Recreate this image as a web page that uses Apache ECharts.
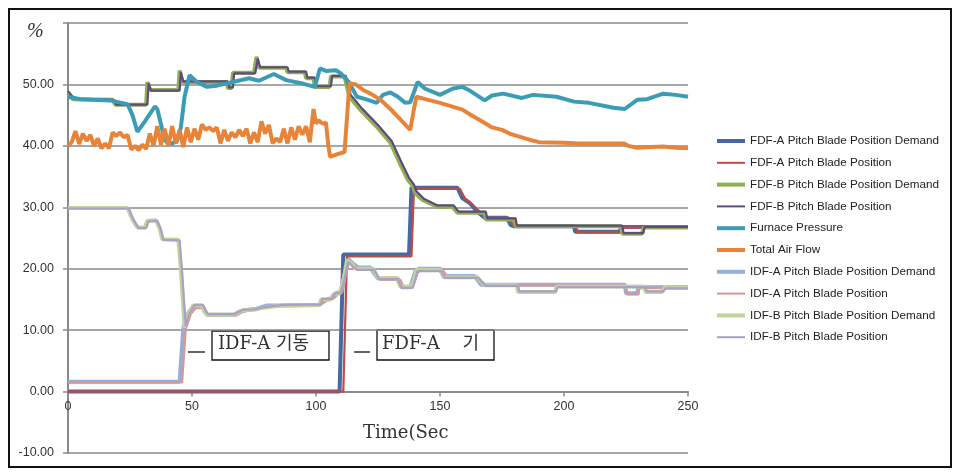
<!DOCTYPE html>
<html>
<head>
<meta charset="utf-8">
<script src="https://cdn.jsdelivr.net/npm/echarts@6/dist/echarts.min.js"></script>
<style>html,body{margin:0;padding:0;background:#fff;}#c{width:960px;height:475px;}</style>
</head>
<body>
<div id="c"></div>
<script>
// ---- data ----
const seriesNames = [
  'FDF-A Pitch Blade Position Demand',
  'FDF-A Pitch Blade Position',
  'FDF-B Pitch Blade Position Demand',
  'FDF-B Pitch Blade Position',
  'Furnace Pressure',
  'Total Air Flow',
  'IDF-A Pitch Blade Position Demand',
  'IDF-A Pitch Blade Position',
  'IDF-B Pitch Blade Position Demand',
  'IDF-B Pitch Blade Position'
];
const xTicks = [0, 50, 100, 150, 200, 250];
const yTicks = [-10, 0, 10, 20, 30, 40, 50, 60];

const fdfADemand = [[0,0],[109.5,0],[111,22.3],[137.5,22.3],[138.5,33.2],[157,33.2],[159,31.5],[162,30.7],[165,29.3],[168,28.3],[177,28.3],[178.5,27.1],[180,26.9],[204,26.9],[204.5,26.0],[222.5,26.0],[223,26.8],[250,26.8]];
const fdfAPos = [[0,0],[111,0],[112.5,22.0],[138.5,22.0],[139.5,33.0],[158,33.0],[160,31.5],[163,30.5],[166,29.3],[169,28.3],[178,28.3],[179.5,27.1],[181,26.8],[205,26.8],[205.5,25.9],[223,25.9],[223.5,26.7],[250,26.7]];
const fdfBDemand = [[0,48.6],[2,47.6],[18,47.5],[19,46.7],[31.5,46.7],[32,50.4],[33,49.1],[44.5,49.1],[45,52.3],[46,50.4],[64,50.4],[64.5,49.4],[66,49.4],[66.5,51.9],[75,51.9],[76,54.5],[77,52.7],[88,52.7],[88.5,52.0],[95.5,52.0],[96,51.0],[99,51.0],[99.5,49.6],[105.5,49.6],[106,51.3],[111.5,51.3],[113.5,48],[118,45.8],[124.5,43.1],[130,40.5],[134,37],[137,34.5],[139,33.5],[140,32.3],[143,31.2],[148.8,30.1],[155,30.1],[157,29.1],[168,29.1],[168.5,28.0],[180,28.0],[180.5,26.9],[223,26.9],[223.5,25.7],[231.5,25.7],[232,26.7],[250,26.7]];
const fdfBPos = [[0,48.9],[2.5,47.7],[18.5,47.5],[19.5,46.7],[32,46.7],[32.5,50.2],[33.5,49.0],[45,49.0],[45.5,52.0],[46.5,50.5],[64.5,50.5],[65,49.5],[66.5,49.5],[67,51.8],[75.5,51.8],[76.5,54.2],[77.5,52.8],[88.5,52.8],[89,52.1],[96,52.1],[96.5,51.1],[99.5,51.1],[100,49.7],[106,49.7],[106.5,51.4],[112,51.4],[114,48.3],[118.5,46.1],[125,43.4],[130.5,40.8],[134.5,37.3],[137.5,34.8],[139.5,33.7],[140.5,32.6],[143.5,31.4],[149,30.3],[155.5,30.3],[157.5,29.3],[168.5,29.3],[169,28.2],[180.5,28.2],[181,27.0],[223.5,27.0],[224,25.8],[232,25.8],[232.5,26.8],[250,26.8]];
const furnacePressure = [[0,48.0],[5,47.6],[10,47.5],[17,47.4],[24,46.8],[26,45],[28,42.3],[31,44],[35,46.4],[36,46],[39,41],[40,40.5],[42,40.4],[44,40.8],[45.5,43],[47,48],[49,51.5],[52,50.4],[56,49.6],[60,49.8],[66.5,50.4],[73,51.0],[77,50.6],[83,51.7],[88,50.7],[95,50.1],[99.5,49.6],[101.6,52.6],[104,52.2],[108,52.3],[110,51.8],[113,50.5],[116.5,48],[120,47.6],[124.5,47],[127,48.3],[130,48.7],[133,48],[136,47],[138,47.1],[141,50.4],[144,49.3],[150,48.3],[155,49.3],[159,49.6],[162,49],[168,47.4],[171,48.2],[175.5,48.5],[183,47.8],[187.5,48.3],[197,48.0],[204,47.2],[210,47.0],[220,46.2],[224.5,46.0],[229.5,47.5],[233.5,47.6],[240,48.5],[245,48.3],[250,48.0]];
const totalAirFlow = [[0,40.0],[1.5,40.6],[3,42.4],[4.5,40.3],[6,42.0],[7.5,40.8],[9,41.8],[10.5,40.0],[12,41.2],[13.5,39.6],[15,40.4],[16.5,39.6],[18,42.2],[19.5,41.6],[21,42.2],[22.5,41.4],[24,41.8],[25.5,39.4],[27,40.0],[28.5,39.3],[30,40.2],[31.5,39.5],[33,42.0],[34.5,40.0],[36,43.2],[37.5,40.2],[39,42.8],[40.5,40.0],[42,43.2],[43.5,40.4],[45,42.6],[46.5,39.8],[48,43.0],[49.5,40.6],[51,42.8],[52.5,41.0],[54,43.5],[55.5,42.6],[57,43.0],[58.5,42.4],[60,43.0],[61.5,40.4],[63,42.6],[64.5,40.8],[66,42.2],[67.5,41.4],[69,42.6],[70.5,41.6],[72,42.8],[73.5,40.4],[75,42.2],[76.5,40.6],[78,44.0],[79.5,42.0],[81,43.4],[82.5,40.4],[84,41.2],[85.5,40.6],[87,42.8],[88.5,40.4],[90,43.0],[91.5,41.0],[93,43.2],[94.5,41.8],[96,43.2],[97.5,40.6],[99,46.0],[100,43.6],[101,44.2],[102,43.8],[103,43.6],[104,43.8],[105,40.0],[105.7,38.2],[107,38.4],[109,38.7],[111.5,39.0],[113.5,50.2],[116,50.0],[119,49.1],[122,48.5],[126,47.5],[130,46.0],[134,44.3],[138,42.6],[139.5,46.0],[140.5,48.0],[144,47.6],[150,47.0],[155,46.4],[159,45.9],[163,44.9],[166,44.2],[171,43.0],[175,42.6],[178,42.0],[182,41.5],[186,41.0],[190,40.6],[200,40.5],[206,40.4],[215,40.4],[224,40.4],[226,40.0],[229.5,39.7],[235,39.8],[240,39.9],[245,39.7],[250,39.6]];
const idfADemand = [[0,1.6],[45,1.6],[46.5,10.4],[48.5,12.8],[50.5,13.8],[54.5,13.8],[56,12.5],[67,12.5],[69,13.0],[72,13.3],[76,13.5],[80,14.0],[86,14.0],[101,14.1],[103,14.8],[106,15.2],[108,16.0],[110,16.2],[111.5,19],[113,21.6],[115,20.8],[117,20.2],[122,20.2],[123.5,19.2],[125,18.4],[133,18.4],[134.5,17.0],[138,17.0],[140,19.5],[141.5,20.0],[150,20.0],[152,18.8],[164,18.8],[166.5,17.4],[224.6,17.4],[225,16.0],[229.5,16.0],[230,17.0],[250,17.0]];
const idfAPos = [[0,1.5],[46,1.5],[47.5,10.2],[49.5,12.6],[51.5,13.6],[55,13.6],[56.5,12.4],[68,12.4],[70,12.9],[73,13.2],[77,13.4],[81,13.9],[101.5,14.0],[104,14.7],[107,15.1],[109,15.9],[110.5,16.1],[112,19],[113.5,21.4],[116,20.6],[118,19.9],[123,19.9],[124.5,18.9],[126,18.2],[134,18.2],[135.5,16.9],[139,16.9],[141,19.3],[142.5,19.9],[151,19.9],[153,18.6],[165,18.6],[167.5,17.3],[225,17.3],[225.5,15.8],[230,15.8],[230.5,16.9],[250,16.9]];
const idfBDemand = [[0,29.9],[24,29.9],[26,28],[28,26.7],[31,26.7],[32,27.8],[35.5,27.9],[37,26.5],[38,24.8],[44.5,24.7],[45.5,20],[47,10.4],[48.5,12.5],[50.5,14.0],[54,14.0],[55,13],[56,12.5],[66.5,12.5],[68,12.8],[70,13.2],[75,13.3],[78,13.6],[82,13.8],[86,14.0],[101.6,14.1],[102,15.0],[106,15.0],[107,15.8],[109.5,16.0],[111,18],[112.5,21.3],[114,21.0],[116,20.0],[123,20.0],[125,18.5],[132.6,18.5],[134,17.1],[138.6,17.1],[140.7,19.8],[150,19.8],[151.5,18.6],[165,18.6],[168,17.3],[181,17.3],[181.5,16.2],[196.4,16.2],[197,17.1],[232,17.1],[233,16.2],[239.5,16.2],[240.5,16.9],[250,16.9]];
const idfBPos = [[0,29.8],[24.5,29.8],[26.5,27.9],[28.5,26.6],[31.5,26.6],[32.5,27.7],[36,27.8],[37.5,26.4],[38.5,24.7],[45,24.6],[46,19.5],[47.5,10.6],[49,12.7],[51,14.1],[54.5,14.1],[55.5,13.1],[56.5,12.6],[67,12.6],[68.5,12.9],[70.5,13.3],[75.5,13.4],[78.5,13.7],[82.5,13.9],[86.5,14.1],[102,14.2],[102.5,15.1],[106.5,15.1],[107.5,15.9],[110,16.1],[111.5,18.3],[113,21.1],[115,20.3],[117,19.8],[123.5,19.8],[125.5,18.3],[133,18.3],[134.5,16.9],[139,16.9],[141,19.6],[150.5,19.6],[152,18.5],[165.5,18.5],[168.5,17.2],[181.5,17.2],[182,16.3],[196.8,16.3],[197.5,17.0],[232.5,17.0],[233.5,16.3],[240,16.3],[241,16.8],[250,16.8]];

const seriesData = [fdfADemand, fdfAPos, fdfBDemand, fdfBPos, furnacePressure, totalAirFlow, idfADemand, idfAPos, idfBDemand, idfBPos];

// ---- styles ----
const colors = ['#4868A3','#BE4B48','#8FB052','#5E4A7D','#3B9CB6','#E8833A','#95AFD6','#DA9694','#C0D49B','#ABA0C6'];
const widths = [4, 2.2, 4, 2.2, 4, 4, 4, 2.2, 4, 2.2];

const gridTop = 23, gridBottom = 22, chartH = 475;
const yMin = yTicks[0], yMax = yTicks[yTicks.length - 1];
const plotH = chartH - gridTop - gridBottom;
const zeroOffset = -plotH * (0 - yMin) / (yMax - yMin); // moves x axis up to y = 0

const chart = echarts.init(document.getElementById('c'), null, {renderer: 'canvas'});

const series = seriesNames.map((n, i) => ({
  name: n,
  type: 'line',
  data: seriesData[i],
  symbol: 'none',
  showSymbol: false,
  lineStyle: {color: colors[i], width: widths[i]},
  itemStyle: {color: colors[i]},
  emphasis: {disabled: true},
  animation: false
}));

const serif = '"DejaVu Serif", "Noto Sans CJK KR", serif';
const sans = '"Liberation Sans", Arial, sans-serif';

chart.setOption({
  animation: false,
  grid: {left: 68, right: 272, top: gridTop, bottom: gridBottom},
  legend: {
    orient: 'vertical',
    left: 710,
    top: 130,
    itemWidth: 28,
    itemHeight: 14,
    itemGap: 9.8,
    itemStyle: {opacity: 0},
    textStyle: {fontFamily: sans, fontSize: 11.7, color: '#222'},
    data: seriesNames.map((n, i) => ({name: n, lineStyle: {width: widths[i] === 4 ? 4 : 2, opacity: 1}})),
    selectedMode: false
  },
  xAxis: {
    type: 'value',
    min: xTicks[0],
    max: xTicks[xTicks.length - 1],
    interval: 50,
    offset: zeroOffset,
    axisLine: {onZero: false, lineStyle: {color: '#8a8a8a', width: 2}},
    axisTick: {show: true, length: 5, lineStyle: {color: '#8a8a8a', width: 1.5}},
    axisLabel: {margin: 8, fontFamily: sans, fontSize: 12.5, color: '#333'},
    splitLine: {show: false}
  },
  yAxis: {
    type: 'value',
    min: yMin,
    max: yMax,
    interval: 10,
    axisLine: {show: true, lineStyle: {color: '#8a8a8a', width: 2}},
    axisTick: {show: true, length: 5, lineStyle: {color: '#8a8a8a', width: 1.5}},
    axisLabel: {
      margin: 14,
      fontFamily: sans, fontSize: 12.5, color: '#333',
      formatter: v => (v === yMax ? '' : v.toFixed(2))
    },
    splitLine: {show: true, lineStyle: {color: '#8a8a8a', width: 1.6}}
  },
  series: series,
  graphic: [
    {type: 'rect', shape: {x: 9, y: 9, width: 942, height: 458}, style: {fill: 'none', stroke: '#111', lineWidth: 2}, silent: true},
    {type: 'text', left: 27, top: 22, style: {text: '%', font: 'italic 20px "Liberation Serif", serif', fill: '#333'}},
    {type: 'text', left: 363, top: 424, style: {text: 'Time(Sec', font: '18px ' + serif, fill: '#333'}},
    // annotation 1
    {type: 'line', shape: {x1: 188, y1: 352, x2: 205, y2: 352}, style: {stroke: '#111', lineWidth: 1.3}},
    {type: 'rect', shape: {x: 212, y: 331, width: 117, height: 29}, style: {fill: '#fff', stroke: '#111', lineWidth: 1.3}},
    {type: 'text', left: 218, top: 335, style: {text: 'IDF-A 기동', font: '18px ' + serif, fill: '#333'}},
    // annotation 2
    {type: 'line', shape: {x1: 354, y1: 352, x2: 370, y2: 352}, style: {stroke: '#111', lineWidth: 1.3}},
    {type: 'rect', shape: {x: 377, y: 330, width: 117, height: 30}, style: {fill: '#fff', stroke: '#111', lineWidth: 1.3}},
    {type: 'text', left: 382, top: 335, style: {text: 'FDF-A    기', font: '18px ' + serif, fill: '#333'}}
  ]
});
</script>
</body>
</html>
